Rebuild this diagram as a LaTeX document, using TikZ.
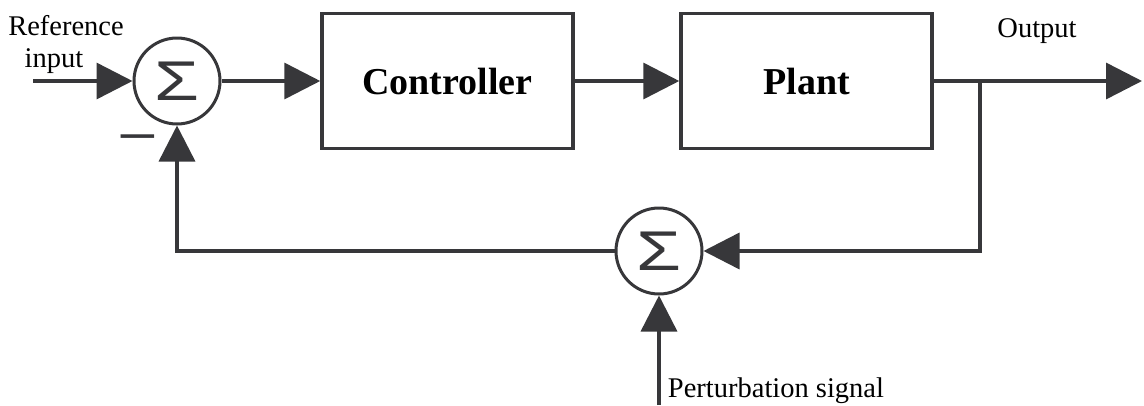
\documentclass[tikz,border=0pt]{standalone}
\usepackage{fontspec}
\setmainfont{Liberation Serif}
\newfontfamily\sigmafont{Liberation Sans}
\usepackage{graphicx}
\usetikzlibrary{arrows.meta}
\definecolor{lineclr}{RGB}{55,55,58}

\begin{document}
\begin{tikzpicture}[x=1pt,y=-1pt,>={Triangle[length=36pt,width=36pt]},
  wire/.style={draw=lineclr,line width=3.5pt},
  sumnode/.style={circle,draw=lineclr,line width=3pt,minimum size=86pt,inner sep=0pt,font=\sigmafont\fontsize{56}{56}\selectfont,text=lineclr},
  block/.style={draw=lineclr,line width=3.5pt,minimum width=251pt,minimum height=135pt,font=\bfseries\fontsize{38}{40}\selectfont},
  lbl/.style={anchor=base,inner sep=0pt,font=\fontsize{28.5}{30}\selectfont}]
\useasboundingbox (0,0) rectangle (1144,405);
% junctions and blocks
\node[sumnode] (s1) at (177,81) {\scalebox{1.3}[1]{Σ}};
\node[sumnode] (s2) at (659,251) {\scalebox{1.3}[1]{Σ}};
\node[block] (ctrl) at (447.5,81) {Controller};
\node[block] (plant) at (806.5,81) {Plant};
% labels
\node[lbl] (ref) at (66,35) {Reference};
\node[lbl] (inp) at (54,67) {input};
\node[lbl] (outl) at (1037,37) {Output};
\node[lbl] (pertl) at (776,397) {Perturbation signal};
\node[anchor=base,inner sep=0pt,text=lineclr,font=\fontsize{72}{72}\selectfont] (minus) at (138,160) {−};
% free ends
\coordinate (in) at (33,81);
\coordinate (out) at (1142,81);
\coordinate (br) at (980,81);
\coordinate (pert) at (659,405);
% signal flow
\draw[wire,->] (in) -- (s1);
\draw[wire,->] (s1) -- (ctrl);
\draw[wire,->] (ctrl) -- (plant);
\draw[wire,->] (plant) -- (out);
\draw[wire,->] (br) |- (s2);
\draw[wire,->] (s2) -| (s1);
\draw[wire,->] (pert) -- (s2);
\end{tikzpicture}
\end{document}
